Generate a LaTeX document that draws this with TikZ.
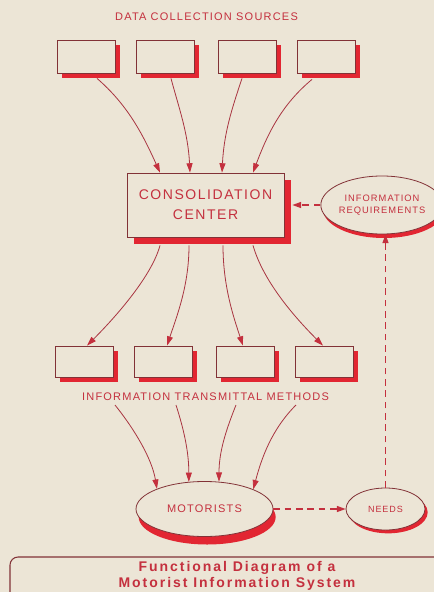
\documentclass[tikz,border=0pt]{standalone}
\usepackage{fontspec}
\setmainfont{Liberation Sans}
\newfontfamily\lblfont{Liberation Sans}[LetterSpace=11]
\newfontfamily\ttlfont{Liberation Sans}[LetterSpace=14]
\usetikzlibrary{arrows.meta,shapes.geometric,shadows}
\definecolor{bgc}{RGB}{236,229,214}
\definecolor{txt}{RGB}{196,48,62}
\definecolor{shd}{RGB}{226,38,50}
\definecolor{lnc}{RGB}{168,52,64}
\definecolor{outl}{RGB}{130,50,55}
\tikzset{
  lbl/.style={text=txt, inner sep=0pt},
  srcbox/.style={draw=outl, line width=0.6pt, fill=bgc, rectangle, inner sep=0pt,
    minimum width=43.5pt, minimum height=24.75pt,
    drop shadow={shadow xshift=3.75pt, shadow yshift=-3.75pt, fill=shd, opacity=1}},
  outbox/.style={srcbox, minimum height=23.25pt},
  ccbox/.style={draw=outl, line width=0.6pt, fill=bgc, rectangle, inner sep=0pt,
    minimum width=117.75pt, minimum height=48pt, text=txt, align=center,
    font=\lblfont\fontsize{10.5pt}{14pt}\selectfont,
    drop shadow={shadow xshift=5.5pt, shadow yshift=-5.5pt, fill=shd, opacity=1}},
  ovalnode/.style={ellipse, draw=outl, line width=0.6pt, fill=bgc, inner sep=0pt,
    text=txt, align=center},
  conn/.style={draw=lnc, line width=0.6pt, -{Triangle[length=7pt,width=4.5pt,color=txt]}},
  dsh/.style={draw=txt, line width=0.8pt, dash pattern=on 5pt off 3.5pt,
    -{Triangle[length=6.5pt,width=4.5pt,color=txt]}},
}
\begin{document}
\begin{tikzpicture}[x=0.75pt,y=-0.75pt]
\fill[bgc] (0,0) rectangle (434,592);
\useasboundingbox (0,0) rectangle (434,592);

\node[lbl, font=\lblfont\fontsize{8.25pt}{10pt}\selectfont] (hdr) at (206.5,17) {DATA COLLECTION SOURCES};

\node[srcbox] (s1) at (86,56.5) {};
\node[srcbox] (s2) at (165,56.5) {};
\node[srcbox] (s3) at (247,56.5) {};
\node[srcbox] (s4) at (326,56.5) {};

\node[ccbox] (cc) at (205.5,205) {CONSOLIDATION\\[1pt]CENTER};

\node[ovalnode, minimum width=75pt, minimum height=43.5pt,
  font=\lblfont\fontsize{7pt}{9pt}\selectfont,
  drop shadow={shadow xshift=1.5pt, shadow yshift=-3pt, fill=shd, opacity=1}]
  (ir) at (382,205) {INFORMATION\\REQUIREMENTS};

\node[outbox] (t1) at (84,361.5) {};
\node[outbox] (t2) at (163,361.5) {};
\node[outbox] (t3) at (245,361.5) {};
\node[outbox] (t4) at (324,361.5) {};

\node[lbl, font=\lblfont\fontsize{8.25pt}{10pt}\selectfont] (tml) at (205.5,397) {INFORMATION TRANSMITTAL METHODS};

\node[ovalnode, minimum width=102.75pt, minimum height=41.25pt,
  font=\lblfont\fontsize{8.25pt}{10pt}\selectfont,
  drop shadow={shadow xshift=2pt, shadow yshift=-6pt, fill=shd, opacity=1}]
  (mo) at (204.5,509) {MOTORISTS};

\node[ovalnode, minimum width=59.25pt, minimum height=31.5pt,
  font=\lblfont\fontsize{6.75pt}{8pt}\selectfont,
  drop shadow={shadow xshift=2pt, shadow yshift=-2.5pt, fill=shd, opacity=1}]
  (nd) at (385.5,509) {NEEDS};

% sources -> consolidation
\draw[conn] ([shift={(11,5)}]s1.south) .. controls +(30,26) and +(-18,-40) .. ([shift={(-45.5,0)}]cc.north);
\draw[conn] ([shift={(6,5)}]s2.south) .. controls +(8,30) and +(-2,-40) .. ([shift={(-15.5,0)}]cc.north);
\draw[conn] ([shift={(-5,5)}]s3.south) .. controls +(-10,30) and +(2,-40) .. ([shift={(16.5,0)}]cc.north);
\draw[conn] ([shift={(-14,6)}]s4.south) .. controls +(-30,25) and +(15,-40) .. ([shift={(47.5,0)}]cc.north);

% consolidation -> methods
\draw[conn] ([shift={(-45.5,8)}]cc.south) .. controls +(-8,30) and +(30,-30) .. ([shift={(3,0)}]t1.north);
\draw[conn] ([shift={(-16.5,8)}]cc.south) .. controls +(0,40) and +(10,-30) .. ([shift={(4,0)}]t2.north);
\draw[conn] ([shift={(17.5,8)}]cc.south) .. controls +(0,40) and +(-10,-30) .. ([shift={(-2,0)}]t3.north);
\draw[conn] ([shift={(47.5,8)}]cc.south) .. controls +(10,35) and +(-30,-30) .. ([shift={(-1,0)}]t4.north);

% methods -> motorists
\coordinate (m1) at (115,405);
\coordinate (m2) at (176,405);
\coordinate (m3) at (236,405);
\coordinate (m4) at (296,405);
\draw[conn] (m1) .. controls +(20,25) and +(-5,-30) .. (mo.157);
\draw[conn] (m2) .. controls +(8,25) and +(0,-30) .. (mo.120);
\draw[conn] (m3) .. controls +(-10,25) and +(0,-30) .. (mo.62);
\draw[conn] (m4) .. controls +(-25,25) and +(8,-30) .. (mo.22);

% dashed feedback
\draw[dsh] (mo.east) -- (nd.west);
\draw[dsh] (nd.north) -- (nd.north |- ir.south);
\draw[dsh] (ir.west) -- ([xshift=6pt]cc.east);

% caption box
\draw[outl, line width=0.8pt, rounded corners=6pt] (10,557) rectangle (452,640);
\node[lbl, font=\ttlfont\bfseries\fontsize{10.5pt}{13pt}\selectfont] (cap1) at (237,568) {Functional Diagram of a};
\node[lbl, font=\ttlfont\bfseries\fontsize{10.5pt}{13pt}\selectfont] (cap2) at (237,583.5) {Motorist Information System};
\end{tikzpicture}
\end{document}
